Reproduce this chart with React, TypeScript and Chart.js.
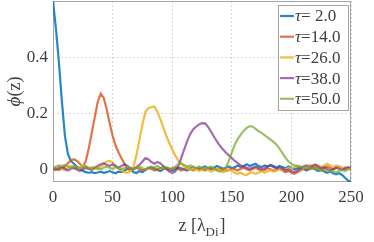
import React, { useEffect, useRef } from "react";
import { Chart, registerables } from "chart.js";

Chart.register(...registerables);

const zGrid = [
  0, 2.5, 5, 7.5, 10, 12.5, 15, 17.5, 20, 22.5, 25, 27.5, 30, 32.5, 35, 37.5, 40, 42.5, 45, 47.5,
  50, 52.5, 55, 57.5, 60, 62.5, 65, 67.5, 70, 72.5, 75, 77.5, 80, 82.5, 85, 87.5, 90, 92.5, 95, 97.5,
  100, 102.5, 105, 107.5, 110, 112.5, 115, 117.5, 120, 122.5, 125, 127.5, 130, 132.5, 135, 137.5, 140, 142.5, 145, 147.5,
  150, 152.5, 155, 157.5, 160, 162.5, 165, 167.5, 170, 172.5, 175, 177.5, 180, 182.5, 185, 187.5, 190, 192.5, 195, 197.5,
  200, 202.5, 205, 207.5, 210, 212.5, 215, 217.5, 220, 222.5, 225, 227.5, 230, 232.5, 235, 237.5, 240, 242.5, 245, 247.5,
  250,
];

const phiTau2 = [
  0.6, 0.5, 0.38, 0.24, 0.12, 0.055, 0.03, 0.02, 0.01, 0.002,
  -0.005, -0.01, -0.012, -0.01, -0.013, -0.011, -0.008, -0.012, -0.01, -0.006,
  -0.01, -0.014, -0.008, -0.01, -0.004, 0.002, 0.004, -0.01, -0.013, -0.006,
  -0.01, -0.002, 0.004, 0.008, 0.004, -0.002, -0.006, 0.0, 0.006, 0.002,
  -0.004, 0.0, 0.006, 0.004, 0.0, -0.004, 0.002, 0.008, 0.004, 0.0,
  0.006, 0.01, 0.004, 0.0, 0.006, 0.012, 0.008, 0.002, 0.006, 0.01,
  0.004, 0.008, 0.014, 0.008, 0.012, 0.018, 0.012, 0.016, 0.02, 0.012,
  0.008, 0.014, 0.01, 0.016, 0.012, 0.006, 0.012, 0.008, 0.004, 0.01,
  0.006, 0.0, 0.004, 0.008, 0.002, -0.004, 0.002, 0.006, 0.0, -0.006,
  -0.002, -0.008, -0.012, -0.008, -0.014, -0.018, -0.014, -0.02, -0.03, -0.04,
  -0.045,
];

const phiTau14 = [
  0.0, 0.004, -0.002, 0.004, 0.01, 0.022, 0.032, 0.036, 0.03, 0.02,
  0.008, 0.03, 0.075, 0.13, 0.185, 0.24, 0.27, 0.255, 0.215, 0.165,
  0.12, 0.085, 0.06, 0.04, 0.02, 0.002, -0.004, 0.002, 0.006, 0.002,
  -0.004, 0.0, 0.006, 0.002, -0.004, 0.0, 0.004, 0.008, 0.002, -0.002,
  0.004, 0.008, 0.002, -0.004, 0.0, 0.006, 0.002, -0.004, 0.002, 0.006,
  0.0, -0.004, 0.002, 0.006, 0.002, -0.002, 0.004, 0.0, -0.006, -0.002,
  0.004, 0.0, -0.004, 0.002, 0.006, 0.0, -0.004, 0.002, 0.006, 0.0,
  -0.006, -0.002, 0.004, 0.0, -0.006, -0.002, 0.002, -0.004, -0.01, -0.006,
  -0.012, -0.016, -0.01, -0.004, 0.002, 0.006, 0.0, 0.004, 0.008, 0.002,
  -0.002, 0.004, 0.01, 0.006, 0.0, 0.006, 0.01, 0.004, 0.0, 0.004,
  0.006,
];

const phiTau26 = [
  -0.008, 0.004, 0.01, 0.002, -0.004, 0.006, 0.012, 0.006, 0.0, 0.008,
  0.014, 0.008, 0.002, 0.008, 0.004, 0.0, 0.01, 0.018, 0.028, 0.03,
  0.025, 0.012, 0.004, -0.004, -0.01, -0.012, -0.006, 0.01, 0.05, 0.105,
  0.16, 0.205, 0.218, 0.222, 0.224, 0.205, 0.18, 0.15, 0.12, 0.095,
  0.072, 0.05, 0.032, 0.02, 0.01, 0.004, -0.002, 0.004, 0.0, -0.006,
  -0.002, 0.004, -0.002, -0.008, -0.004, 0.002, -0.004, -0.01, -0.006, 0.0,
  -0.006, -0.012, -0.016, -0.012, -0.018, -0.02, -0.014, -0.01, -0.016, -0.012,
  -0.006, -0.012, -0.008, -0.002, -0.008, -0.004, 0.002, -0.004, 0.0, 0.006,
  0.002, 0.008, 0.014, 0.01, 0.004, 0.01, 0.016, 0.012, 0.018, 0.014,
  0.008, 0.014, 0.02, 0.014, 0.008, 0.014, 0.01, 0.004, 0.008, 0.002,
  0.0,
];

const phiTau38 = [
  0.004, -0.002, 0.004, 0.008, 0.002, -0.004, 0.002, 0.006, 0.0, -0.006,
  0.0, 0.006, 0.002, -0.002, 0.006, 0.012, 0.018, 0.022, 0.016, 0.012,
  0.018, 0.012, 0.006, 0.012, 0.018, 0.012, 0.004, 0.0, 0.008, 0.016,
  0.028, 0.04, 0.036, 0.026, 0.02, 0.026, 0.022, 0.012, 0.002, -0.008,
  -0.012, -0.008, 0.01, 0.04, 0.07, 0.1, 0.125, 0.142, 0.152, 0.16,
  0.165, 0.164, 0.152, 0.135, 0.117, 0.1, 0.084, 0.072, 0.06, 0.05,
  0.04, 0.03, 0.022, 0.014, 0.01, 0.006, 0.002, 0.006, 0.01, 0.006,
  0.0, 0.004, 0.01, 0.014, 0.008, 0.004, 0.008, 0.002, -0.004, 0.0,
  -0.006, -0.01, -0.004, 0.004, 0.01, 0.014, 0.008, 0.012, 0.016, 0.01,
  0.004, 0.008, 0.002, -0.004, 0.0, 0.006, 0.002, -0.002, 0.004, 0.008,
  0.004,
];

const phiTau50 = [
  0.006, 0.01, 0.014, 0.012, 0.016, 0.01, 0.006, 0.012, 0.008, 0.002,
  0.008, 0.012, 0.006, 0.002, 0.008, 0.004, 0.0, 0.006, 0.01, 0.006,
  0.002, 0.008, 0.004, 0.0, 0.006, 0.01, 0.004, 0.0, 0.006, 0.01,
  0.004, 0.0, 0.006, 0.01, 0.006, 0.012, 0.006, 0.002, 0.008, 0.004,
  0.0, 0.008, 0.018, 0.022, 0.016, 0.01, 0.014, 0.01, 0.004, 0.01,
  0.006, 0.0, 0.006, 0.01, 0.004, -0.004, -0.008, -0.002, 0.006, 0.03,
  0.06, 0.088, 0.108, 0.124, 0.138, 0.148, 0.154, 0.152, 0.144, 0.136,
  0.13, 0.122, 0.114, 0.106, 0.098, 0.088, 0.074, 0.058, 0.042, 0.028,
  0.02, 0.014, 0.012, 0.01, 0.006, 0.01, 0.006, 0.002, 0.004, 0.0,
  -0.004, -0.002, -0.006, -0.01, -0.006, -0.01, -0.006, -0.002, -0.006, 0.0,
  0.004,
];

const seriesLabels = ["2.0", "14.0", "26.0", "38.0", "50.0"];
const seriesTextPad = [" ", "", "", "", ""];
const seriesValues = [phiTau2, phiTau14, phiTau26, phiTau38, phiTau50];
const seriesColors = [
  "rgba(0,114,189,0.85)",
  "rgba(217,83,25,0.8)",
  "rgba(237,177,32,0.85)",
  "rgba(126,47,142,0.7)",
  "rgba(119,172,48,0.75)",
];

const xTicks = [0, 50, 100, 150, 200, 250];
const yTicks = [0, 0.2, 0.4];

const SERIF = "'Liberation Serif', 'DejaVu Serif', serif";
const TEXT = "#404040";
const AXIS = "#a6a6a6";

const framePlugin = {
  id: "frame",
  beforeDatasetsDraw(chart: any) {
    const { ctx, chartArea: a } = chart;
    ctx.save();
    ctx.strokeStyle = AXIS;
    ctx.lineWidth = 1;
    const l = Math.floor(a.left) + 0.5;
    const t = Math.floor(a.top) + 0.5;
    const r = Math.floor(a.right) - 0.5;
    const b = Math.floor(a.bottom) - 0.5;
    ctx.strokeRect(l, t, r - l, b - t);
    ctx.restore();
  },
  afterDraw(chart: any) {
    const { ctx, chartArea: a } = chart;
    ctx.save();
    ctx.fillStyle = TEXT;
    ctx.textBaseline = "alphabetic";
    ctx.textAlign = "left";

    // x title: z [λ_Di]
    const big = `18px ${SERIF}`;
    const small = `13px ${SERIF}`;
    ctx.font = big;
    const p1 = "z [λ";
    const p3 = "]";
    const w1 = ctx.measureText(p1).width;
    const w3 = ctx.measureText(p3).width;
    ctx.font = small;
    const w2 = ctx.measureText("Di").width;
    const total = w1 + w2 + w3 + 1;
    let x = (a.left + a.right) / 2 - total / 2;
    const by = 231;
    ctx.font = big;
    ctx.fillText(p1, x, by);
    x += w1;
    ctx.font = small;
    ctx.fillText("Di", x, by + 5);
    x += w2 + 1;
    ctx.font = big;
    ctx.fillText(p3, x, by);

    // y title: ϕ(z)
    ctx.save();
    ctx.translate(20, (a.top + a.bottom) / 2);
    ctx.rotate(-Math.PI / 2);
    const ital = `italic 19px ${SERIF}`;
    ctx.font = ital;
    const wp = ctx.measureText("ϕ").width;
    ctx.font = big;
    const wz = ctx.measureText("(z)").width;
    let yx = -(wp + wz) / 2;
    ctx.font = ital;
    ctx.fillText("ϕ", yx, 0);
    yx += wp;
    ctx.font = big;
    ctx.fillText("(z)", yx, 0);
    ctx.restore();

    // legend
    const bx = 278.5, byTop = 5.5, bw = 70, bh = 105;
    ctx.fillStyle = "#ffffff";
    ctx.fillRect(bx, byTop, bw, bh);
    ctx.strokeStyle = AXIS;
    ctx.lineWidth = 1;
    ctx.strokeRect(bx, byTop, bw, bh);
    const legFont = `17px ${SERIF}`;
    const legItal = `italic 17px ${SERIF}`;
    seriesLabels.forEach((lab, i) => {
      const cy = 16 + i * 20.7;
      ctx.strokeStyle = seriesColors[i];
      ctx.lineWidth = 2.2;
      ctx.beginPath();
      ctx.moveTo(280, cy);
      ctx.lineTo(294, cy);
      ctx.stroke();
      ctx.fillStyle = TEXT;
      ctx.textBaseline = "middle";
      ctx.font = legItal;
      ctx.fillText("τ", 295, cy + 1);
      const wt = ctx.measureText("τ").width;
      ctx.font = legFont;
      ctx.fillText("=" + seriesTextPad[i] + lab, 295 + wt, cy + 1);
    });
    ctx.restore();
  },
};

export default function App() {
  const ref = useRef<HTMLCanvasElement | null>(null);

  useEffect(() => {
    if (!ref.current) return;
    const datasets = seriesValues.map((vals, i) => ({
      label: "τ=" + seriesLabels[i],
      data: zGrid.map((z, k) => ({ x: z, y: vals[k] })),
      borderColor: seriesColors[i],
      backgroundColor: seriesColors[i],
      borderWidth: 2.2,
      pointRadius: 0,
      tension: 0,
      fill: false,
      order: seriesValues.length - 1 - i,
    }));
    const chart = new Chart(ref.current, {
      type: "line",
      data: { datasets },
      plugins: [framePlugin],
      options: {
        animation: false,
        responsive: false,
        devicePixelRatio: 1,
        layout: { padding: { top: 1, right: 23, left: 0, bottom: 0 } },
        plugins: { legend: { display: false }, tooltip: { enabled: false } },
        scales: {
          x: {
            type: "linear",
            min: 0,
            max: 250,
            afterBuildTicks: (s: any) => {
              s.ticks = xTicks.map((v) => ({ value: v }));
            },
            ticks: {
              font: { family: SERIF, size: 17 },
              color: TEXT,
              padding: 5,
              maxRotation: 0,
              autoSkip: false,
            },
            grid: { color: "#d8d8d8", drawTicks: false, lineWidth: 1 },
            border: { display: false, dash: [2, 2] },
            afterFit: (s: any) => {
              s.height = 60;
              s.paddingLeft = 0;
              s.paddingRight = 0;
            },
          },
          y: {
            type: "linear",
            min: -0.045,
            max: 0.6,
            afterBuildTicks: (s: any) => {
              s.ticks = yTicks.map((v) => ({ value: v }));
            },
            ticks: {
              font: { family: SERIF, size: 17 },
              color: TEXT,
              padding: 5,
              autoSkip: false,
              callback: (v: any) => (v === 0 ? "0" : Number(v).toFixed(1)),
            },
            grid: { color: "#d8d8d8", drawTicks: false, lineWidth: 1 },
            border: { display: false, dash: [2, 2] },
            afterFit: (s: any) => {
              s.width = 53;
              s.paddingTop = 0;
              s.paddingBottom = 0;
            },
          },
        },
      },
    } as any);
    return () => chart.destroy();
  }, []);

  return (
    <div style={{ position: "absolute", left: 0, top: 0, width: 374, height: 242, background: "#fff" }}>
      <canvas ref={ref} width={374} height={242} style={{ display: "block" }} />
    </div>
  );
}
